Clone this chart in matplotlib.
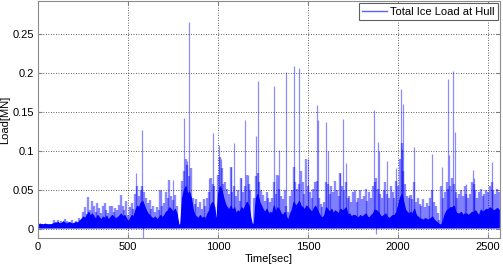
import numpy as np
import matplotlib
matplotlib.use('Agg')
import matplotlib.pyplot as plt
from matplotlib.lines import Line2D

plt.rcParams['font.family'] = ['Liberation Sans', 'DejaVu Sans']

# light streaks, one value every 10 s (t = 0 .. 2560)
streak_load = [
    0.006, 0.006, 0.007, 0.006, 0.006, 0.007, 0.006, 0.006, 0.007, 0.011,
    0.009, 0.012, 0.008, 0.010, 0.009, 0.013, 0.010, 0.008, 0.009, 0.011,
    0.008, 0.010, 0.009, 0.014, 0.012, 0.022, 0.028, 0.019, 0.041, 0.024,
    0.036, 0.030, 0.022, 0.033, 0.027, 0.020, 0.030, 0.034, 0.025, 0.021,
    0.029, 0.030, 0.022, 0.027, 0.025, 0.031, 0.044, 0.029, 0.024, 0.036,
    0.018, 0.028, 0.033, 0.026, 0.045, 0.055, 0.042, 0.050, 0.055, 0.048,
    0.040, 0.034, 0.037, 0.026, 0.030, 0.022, 0.028, 0.025, 0.050, 0.030,
    0.034, 0.048, 0.040, 0.063, 0.042, 0.037, 0.044, 0.030, 0.010, 0.006,
    0.062, 0.075, 0.090, 0.082, 0.068, 0.078, 0.040, 0.032, 0.038, 0.028,
    0.035, 0.026, 0.038, 0.030, 0.040, 0.048, 0.065, 0.058, 0.055, 0.008,
    0.070, 0.092, 0.078, 0.058, 0.060, 0.052, 0.045, 0.080, 0.048, 0.055,
    0.042, 0.050, 0.036, 0.065, 0.048, 0.055, 0.070, 0.058, 0.050, 0.008,
    0.040, 0.068, 0.072, 0.060, 0.050, 0.044, 0.036, 0.048, 0.040, 0.035,
    0.040, 0.060, 0.045, 0.070, 0.052, 0.042, 0.038, 0.050, 0.030, 0.022,
    0.042, 0.050, 0.080, 0.060, 0.052, 0.058, 0.075, 0.060, 0.045, 0.090,
    0.055, 0.048, 0.040, 0.052, 0.060, 0.062, 0.040, 0.032, 0.028, 0.035,
    0.060, 0.058, 0.045, 0.055, 0.048, 0.062, 0.050, 0.043, 0.072, 0.055,
    0.050, 0.060, 0.040, 0.042, 0.035, 0.048, 0.050, 0.035, 0.040, 0.050,
    0.038, 0.042, 0.052, 0.036, 0.048, 0.040, 0.055, 0.060, 0.065, 0.052,
    0.045, 0.040, 0.050, 0.060, 0.045, 0.040, 0.055, 0.048, 0.040, 0.062,
    0.055, 0.090, 0.110, 0.075, 0.058, 0.042, 0.040, 0.044, 0.038, 0.060,
    0.035, 0.040, 0.032, 0.030, 0.038, 0.028, 0.034, 0.030, 0.040, 0.050,
    0.035, 0.030, 0.020, 0.012, 0.055, 0.040, 0.048, 0.060, 0.052, 0.055,
    0.065, 0.058, 0.048, 0.040, 0.045, 0.050, 0.042, 0.055, 0.045, 0.040,
    0.045, 0.060, 0.058, 0.050, 0.040, 0.048, 0.052, 0.042, 0.045, 0.050,
    0.048, 0.055, 0.060, 0.050, 0.045, 0.052, 0.048,
]

# dark core of the signal, one value every 10 s (t = 0 .. 2560)
core_load = [
    0.006, 0.007, 0.006, 0.006, 0.007, 0.006, 0.006, 0.006, 0.007, 0.008,
    0.008, 0.009, 0.007, 0.008, 0.010, 0.008, 0.007, 0.009, 0.008, 0.007,
    0.008, 0.009, 0.008, 0.011, 0.013, 0.016, 0.014, 0.018, 0.022, 0.017,
    0.020, 0.016, 0.013, 0.018, 0.015, 0.012, 0.016, 0.014, 0.017, 0.012,
    0.015, 0.018, 0.016, 0.014, 0.015, 0.017, 0.020, 0.016, 0.018, 0.014,
    0.010, 0.014, 0.018, 0.016, 0.024, 0.030, 0.028, 0.034, 0.036, 0.030,
    0.024, 0.020, 0.018, 0.015, 0.014, 0.016, 0.012, 0.015, 0.018, 0.015,
    0.018, 0.022, 0.024, 0.028, 0.025, 0.022, 0.026, 0.020, 0.006, 0.005,
    0.040, 0.050, 0.055, 0.045, 0.048, 0.040, 0.025, 0.018, 0.016, 0.014,
    0.018, 0.014, 0.016, 0.013, 0.020, 0.024, 0.032, 0.035, 0.028, 0.006,
    0.045, 0.055, 0.050, 0.040, 0.032, 0.028, 0.025, 0.030, 0.024, 0.028,
    0.020, 0.024, 0.022, 0.028, 0.025, 0.030, 0.035, 0.030, 0.015, 0.005,
    0.008, 0.040, 0.045, 0.035, 0.030, 0.025, 0.022, 0.026, 0.020, 0.022,
    0.020, 0.030, 0.022, 0.028, 0.025, 0.020, 0.018, 0.022, 0.015, 0.012,
    0.020, 0.025, 0.035, 0.030, 0.032, 0.036, 0.030, 0.028, 0.025, 0.030,
    0.028, 0.025, 0.022, 0.026, 0.030, 0.025, 0.020, 0.016, 0.015, 0.018,
    0.028, 0.025, 0.022, 0.026, 0.020, 0.024, 0.022, 0.020, 0.026, 0.024,
    0.025, 0.028, 0.018, 0.020, 0.016, 0.018, 0.018, 0.016, 0.015, 0.018,
    0.016, 0.018, 0.020, 0.016, 0.015, 0.018, 0.020, 0.025, 0.024, 0.022,
    0.018, 0.016, 0.018, 0.020, 0.016, 0.014, 0.016, 0.018, 0.018, 0.022,
    0.030, 0.040, 0.045, 0.035, 0.025, 0.022, 0.020, 0.022, 0.020, 0.026,
    0.018, 0.016, 0.014, 0.013, 0.012, 0.014, 0.013, 0.012, 0.014, 0.016,
    0.012, 0.010, 0.008, 0.006, 0.006, 0.012, 0.020, 0.024, 0.026, 0.028,
    0.028, 0.030, 0.022, 0.020, 0.020, 0.022, 0.018, 0.020, 0.020, 0.018,
    0.020, 0.022, 0.022, 0.024, 0.020, 0.018, 0.025, 0.022, 0.024, 0.026,
    0.025, 0.028, 0.026, 0.024, 0.025, 0.027, 0.025,
]
base_load = 0.002

# isolated peaks
spike_t = [544, 576, 581, 683, 748, 813, 828, 837, 952, 974,
           1007, 1018, 1072, 1091, 1128, 1152, 1165, 1211, 1220, 1311,
           1331, 1341, 1376, 1422, 1452, 1498, 1550, 1553, 1600, 1609,
           1680, 1693, 1711, 1868, 1877, 1887, 1896, 1939, 1989, 2015,
           2022, 2028, 2063, 2091, 2189, 2243, 2276, 2282, 2306, 2318,
           2378, 2415, 2423, 2522]
spike_load = [0.072, 0.127, -0.012, 0.050, 0.063, 0.143, 0.088, 0.266, 0.065, 0.123,
              0.108, 0.090, 0.080, 0.110, 0.065, 0.140, 0.070, 0.120, 0.190, 0.184,
              0.070, 0.102, 0.202, 0.209, 0.207, 0.090, 0.159, 0.140, 0.138, 0.100,
              0.072, 0.142, 0.085, 0.153, -0.006, 0.112, 0.100, 0.088, 0.078, 0.180,
              0.103, 0.161, 0.044, 0.106, 0.097, 0.080, 0.193, 0.095, 0.203, 0.125,
              0.058, 0.076, 0.066, 0.086]

t_sec = np.arange(len(streak_load)) * 10

fig = plt.figure(figsize=(5.03, 2.66), dpi=100)
ax = fig.add_axes([38 / 503, 1 - 238 / 266, 462 / 503, 237 / 266])

ax.vlines(t_sec, base_load, streak_load, color='#0000ff', alpha=0.45, lw=1.7)
ax.vlines(spike_t, base_load, spike_load, color='#0000ff', alpha=0.45, lw=0.9)
ax.fill_between(t_sec, base_load, core_load, color='#0000ff',
                lw=0.8, edgecolor='#0000ff')

ax.set_xlim(0, 2567)
ax.set_ylim(-0.0115, 0.293)
ax.set_xticks([0, 500, 1000, 1500, 2000, 2500])
ax.set_yticks([0, 0.05, 0.1, 0.15, 0.2, 0.25])
ax.set_yticklabels(['0', '0.05', '0.1', '0.15', '0.2', '0.25'])
ax.tick_params(direction='in', length=3, labelsize=8, colors='#808080',
               labelcolor='black', top=True, right=True, pad=3)
ax.grid(True, color='#303030', linestyle=(0, (1, 2)), lw=0.6)
for s in ax.spines.values():
    s.set_color('#8c8c8c')

ax.set_xlabel('Time[sec]', fontsize=8, labelpad=1)
ax.set_ylabel('Load[MN]', fontsize=8)
ax.yaxis.set_label_coords(-0.06, 0.5)

handle = Line2D([], [], color='#6060ff', lw=1)
leg = ax.legend([handle], ['Total Ice Load at Hull'], loc='upper right', fontsize=8,
                fancybox=False, framealpha=1, edgecolor='#606060',
                borderpad=0.3, handlelength=2.2, handletextpad=0.3,
                borderaxespad=0.2)
leg.get_frame().set_linewidth(0.8)

fig.savefig('out.png', dpi=100)
